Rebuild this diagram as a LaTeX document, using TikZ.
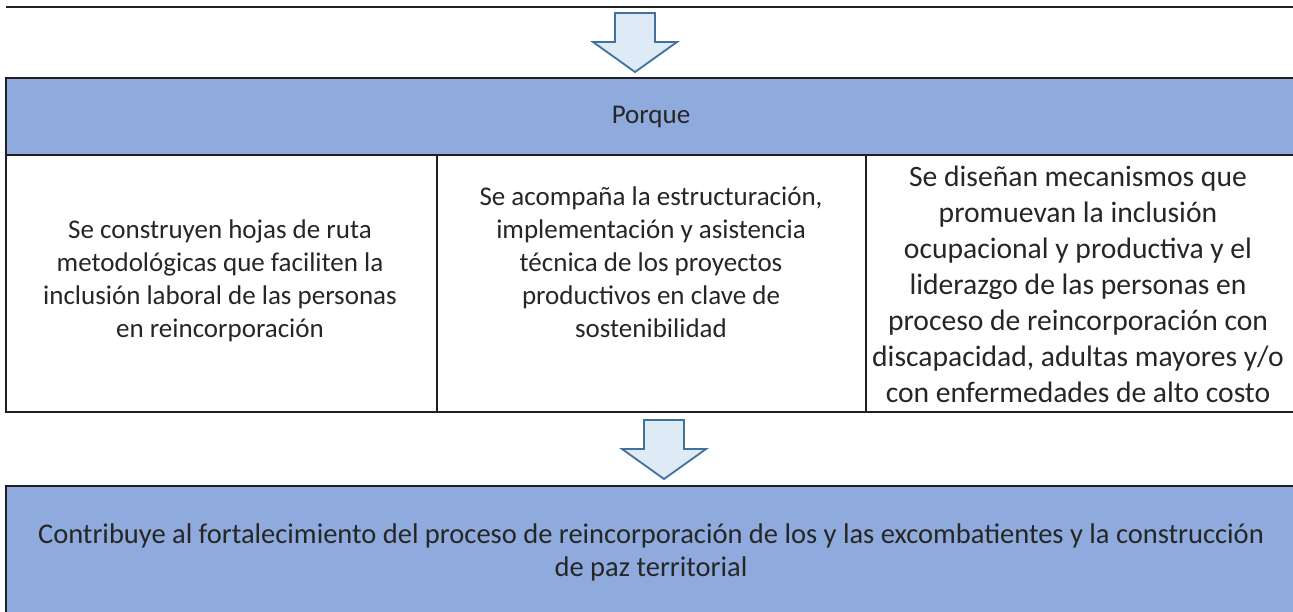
\documentclass[tikz,border=0pt]{standalone}
\usepackage{fontspec}
\setmainfont{Carlito}
\definecolor{hdrblue}{HTML}{8FAADC}
\definecolor{arrfill}{HTML}{DEEBF7}
\definecolor{arrline}{HTML}{41719C}
\definecolor{rulec}{HTML}{231F20}
\definecolor{txt}{HTML}{262626}
\begin{document}
\begin{tikzpicture}[x=1pt,y=-1pt,
  rulestyle/.style={draw=rulec,line width=2.4pt},
  bluebox/.style={rulestyle,fill=hdrblue},
  cellbox/.style={rulestyle,fill=white},
  arrowstyle/.style={draw=arrline,fill=arrfill,line width=1.8pt,line join=miter},
  celltext/.style={text=txt,align=center,inner sep=0pt},
  smalltext/.style={celltext,font=\fontsize{27}{33}\selectfont},
  bigtext/.style={celltext,font=\fontsize{29.6}{36}\selectfont},
  downarr/.pic={\draw[arrowstyle] (-20,0) -- (20,0) -- (20,29) -- (42,29) -- (0,59) -- (-42,29) -- (-20,29) -- cycle;}
]
\useasboundingbox (0,0) rectangle (1293,612);
\clip (0,0) rectangle (1293,612);
\fill[white] (0,0) rectangle (1293,612);
% top rule
\coordinate (topL) at (6,7);
\coordinate (topR) at (1300,7);
\draw[rulestyle] (topL) -- (topR);
% arrow 1
\pic at (635,13) {downarr};
% header
\draw[bluebox] (6,78) rectangle (1302,155);
\node[smalltext] (porque) at (651,117) {Porque};
% table body
\draw[cellbox] (6,155) rectangle (1302,412);
\coordinate (c1t) at (437,155); \coordinate (c1b) at (437,412);
\coordinate (c2t) at (866,155); \coordinate (c2b) at (866,412);
\draw[rulestyle] (c1t) -- (c1b);
\draw[rulestyle] (c2t) -- (c2b);
\node[smalltext] (col1) at (220,281) {Se construyen hojas de ruta\\metodológicas que faciliten la\\inclusión laboral de las personas\\en reincorporación};
\node[smalltext] (col2) at (651,262) {Se acompaña la estructuración,\\implementación y asistencia\\técnica de los proyectos\\productivos en clave de\\sostenibilidad};
\node[bigtext] (col3) at (1078,284) {Se diseñan mecanismos que\\promuevan la inclusión\\ocupacional y productiva y el\\liderazgo de las personas en\\proceso de reincorporación con\\discapacidad, adultas mayores y/o\\con enfermedades de alto costo};
% arrow 2
\pic at (664,420) {downarr};
% bottom box
\draw[bluebox] (6,486) rectangle (1302,625);
\node[celltext,font=\fontsize{28.5}{33}\selectfont] (result) at (651,552) {Contribuye al fortalecimiento del proceso de reincorporación de los y las excombatientes y la construcción\\de paz territorial};
\end{tikzpicture}
\end{document}
